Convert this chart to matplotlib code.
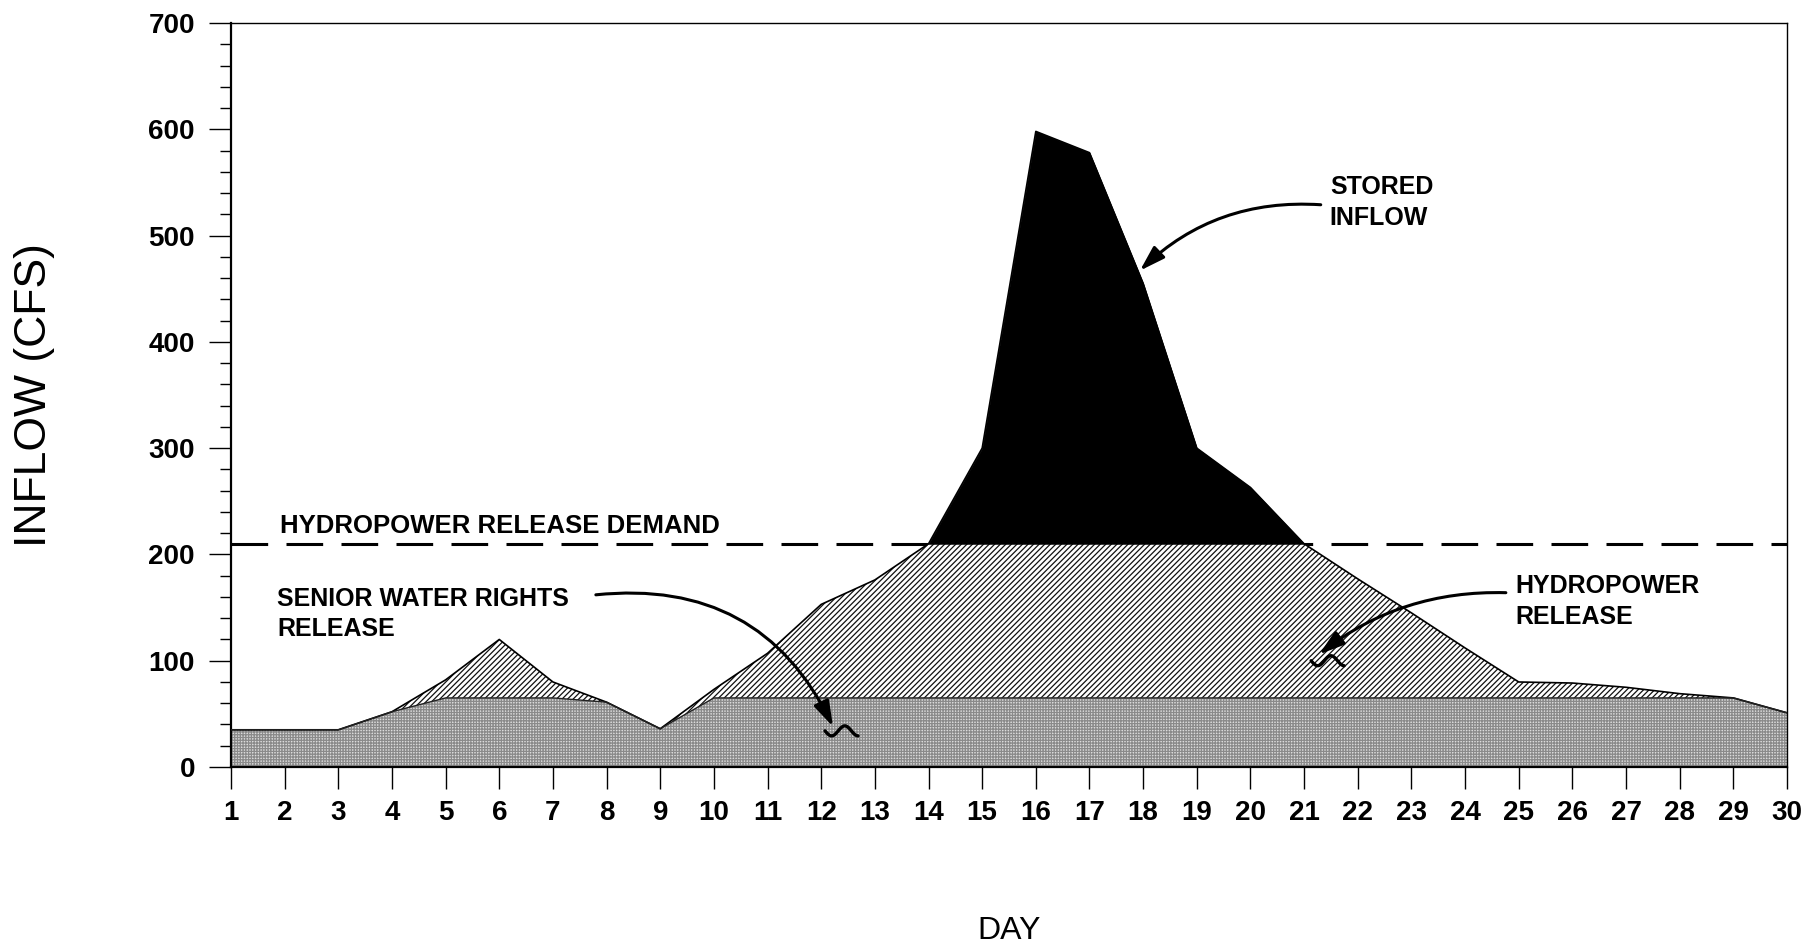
"""Daily inflow split into senior rights release, hydropower release and stored inflow."""

import numpy as np
import matplotlib

matplotlib.use("Agg")
import matplotlib.pyplot as plt
import matplotlib.transforms as mtransforms

plt.rcParams["font.family"] = ["Liberation Sans", "DejaVu Sans"]
plt.rcParams["hatch.linewidth"] = 0.9

# values (cfs)
days = np.arange(1, 31)
total_inflow = [35, 35, 35, 52, 82, 120, 80, 61, 36, 73,
                107, 153, 176, 210, 300, 598, 578, 455, 300, 263,
                210, 177, 145, 112, 80, 79, 75, 69, 65, 51]
senior_release = [35, 35, 35, 52, 65, 65, 65, 61, 36, 65,
                  65, 65, 65, 65, 65, 65, 65, 65, 65, 65,
                  65, 65, 65, 65, 65, 65, 65, 65, 65, 51]
hydro_demand = 210
y_ticks = list(range(0, 701, 100))

total = np.array(total_inflow, dtype=float)
senior = np.array(senior_release, dtype=float)
hydro_top = np.minimum(total, hydro_demand)

fig = plt.figure(figsize=(18.09, 9.47), dpi=100)
ax = fig.add_axes([231 / 1809, 1 - 767 / 947, 1556 / 1809, 744 / 947])

ax.axhline(hydro_demand, color="black", lw=2.2, dashes=(12, 6), zorder=1)

ax.fill_between(days, 0, senior, facecolor="#dcdcdc", edgecolor="#8a8a8a",
                hatch="++++++", linewidth=0, zorder=2)
ax.fill_between(days, senior, hydro_top, facecolor="white", edgecolor="#111111",
                hatch="//////", linewidth=0, zorder=2)
ax.fill_between(days, hydro_demand, total, where=total >= hydro_demand,
                interpolate=True, facecolor="black", edgecolor="black",
                linewidth=0.5, zorder=2)
ax.plot(days, total, color="black", lw=1.2, zorder=3)
ax.plot(days, senior, color="#222222", lw=1.0, zorder=3)

ax.set_xlim(1, 30)
ax.set_ylim(0, 700)
ax.set_xticks(days, labels=[str(d) for d in days], fontsize=20, fontweight="bold")
ax.set_yticks(y_ticks, labels=[str(v) for v in y_ticks], fontsize=20, fontweight="bold")
ax.set_yticks(np.arange(0, 701, 20), minor=True)
ax.tick_params(axis="x", direction="out", length=16, width=1, pad=8)
ax.tick_params(axis="y", which="major", direction="out", length=16, width=1, pad=10)
ax.tick_params(axis="y", which="minor", direction="out", length=8, width=1)
for side in ("top", "right"):
    ax.spines[side].set_linewidth(1.0)
ax.spines["left"].set_linewidth(1.6)
ax.spines["bottom"].set_linewidth(1.6)

ax.set_xlabel("DAY", fontsize=23)
ax.xaxis.label.set_va("center")
ax.xaxis.set_label_coords(0.5, -0.2204)
ax.set_ylabel("INFLOW (CFS)", fontsize=32)
ax.yaxis.label.set_va("center")
ax.yaxis.set_label_coords(-0.126, 0.5)

label_kw = dict(fontsize=18, fontweight="bold", ha="left", va="center", linespacing=1.35)
ax.text(1.91, 220, "HYDROPOWER RELEASE DEMAND", fontsize=18.5, fontweight="bold",
        ha="left", va="baseline")
ax.text(21.48, 531, "STORED\nINFLOW", **label_kw)
ax.text(24.93, 156, "HYDROPOWER\nRELEASE", **label_kw)
ax.text(1.86, 144, "SENIOR WATER RIGHTS\nRELEASE", **label_kw)


def curved_arrow(start, end, rad):
    ax.annotate("", xy=end, xytext=start, zorder=5,
                arrowprops=dict(arrowstyle="-|>,head_length=0.7,head_width=0.22",
                                connectionstyle=f"arc3,rad={rad}", lw=2.2,
                                color="black", shrinkA=0, shrinkB=0,
                                mutation_scale=22))


def squiggle(x0, y0, width_in=0.33, amp_in=0.05, turns=1.25):
    t = np.linspace(0, turns * 2 * np.pi, 40)
    xs = t / t[-1] * width_in - 0.08
    ys = -amp_in * np.sin(t)
    trans = fig.dpi_scale_trans + mtransforms.ScaledTranslation(x0, y0, ax.transData)
    ax.plot(xs, ys, color="black", lw=2.4, transform=trans, zorder=5,
            solid_capstyle="round")


curved_arrow((21.31, 529), (17.94, 467), 0.22)
curved_arrow((24.76, 164), (21.28, 106), 0.18)
curved_arrow((7.80, 162), (12.22, 38), -0.35)
squiggle(12.22, 34)
squiggle(21.28, 100)

fig.savefig("out.png", dpi=100)
